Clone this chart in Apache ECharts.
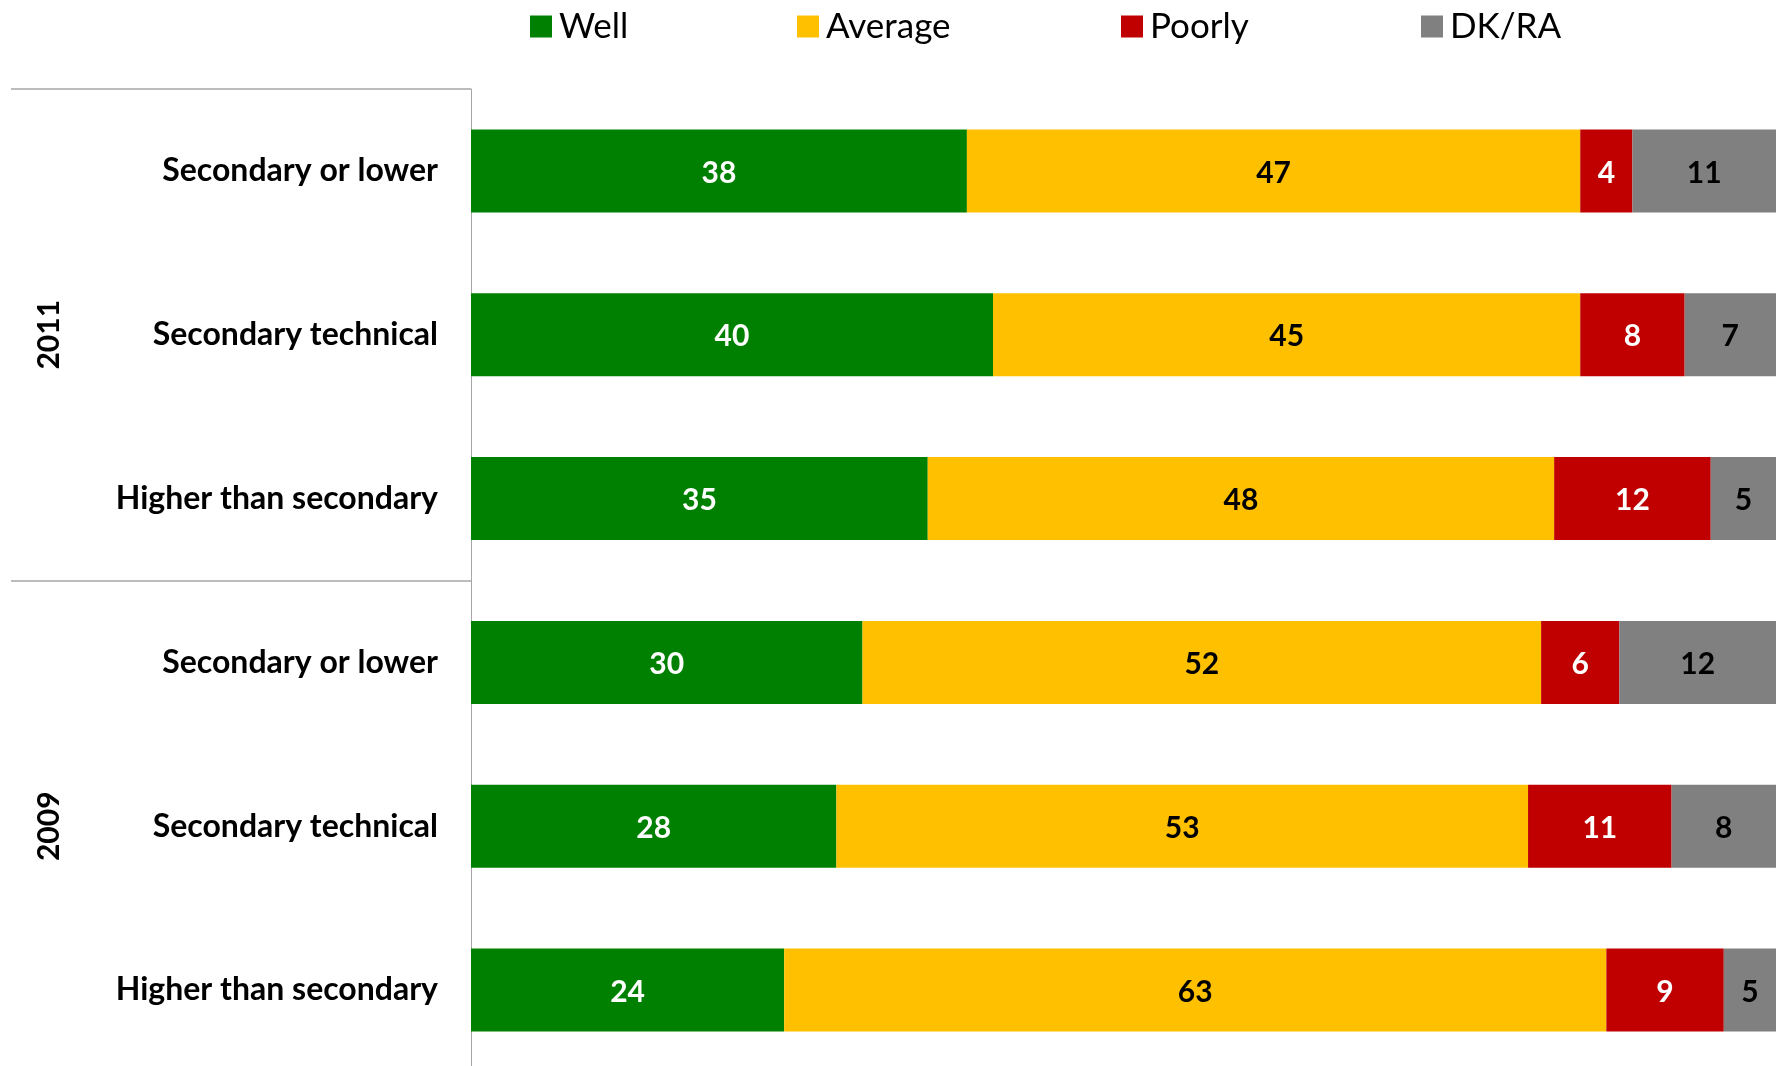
<!DOCTYPE html>
<html>
<head>
<meta charset="utf-8">
<script src="https://cdn.jsdelivr.net/npm/echarts@6/dist/echarts.min.js"></script>
<style>
  html, body { margin: 0; padding: 0; background: #fff; }
  #chart { width: 1776px; height: 1066px; }
</style>
</head>
<body>
<div id="chart"></div>
<script>
  // rows top to bottom
  var categories = ['Secondary or lower', 'Secondary technical', 'Higher than secondary',
                    'Secondary or lower ', 'Secondary technical ', 'Higher than secondary '];
  var years = ['2011', '2009'];
  var well    = [38, 40, 35, 30, 28, 24];
  var average = [47, 45, 48, 52, 53, 63];
  var poorly  = [4, 8, 12, 6, 11, 9];
  var dkra    = [11, 7, 5, 12, 8, 5];

  var names = ['Well', 'Average', 'Poorly', 'DK/RA'];
  var colors = ['#008000', '#FFC000', '#C00000', '#808080'];
  var labelColors = ['#fff', '#000', '#fff', '#000'];
  var values = [well, average, poorly, dkra];
  var legendLeft = [525, 792, 1116, 1416];

  var FONT = 'Lato';

  var chart = echarts.init(document.getElementById('chart'));

  var legends = names.map(function (n, i) {
    return {
      data: [n],
      left: legendLeft[i],
      top: 4,
      icon: 'rect',
      itemWidth: 22,
      itemHeight: 22,
      itemGap: 0,
      selectedMode: false,
      textStyle: { fontFamily: FONT, fontSize: 35, color: '#000', padding: [0, 0, 0, 2] }
    };
  });

  var series = names.map(function (n, i) {
    return {
      name: n,
      type: 'bar',
      stack: 'total',
      barWidth: 83,
      itemStyle: { color: colors[i] },
      label: {
        show: true,
        position: 'inside',
        offset: [0, 2],
        fontFamily: FONT,
        fontWeight: 'bold',
        fontSize: 30,
        color: labelColors[i],
        formatter: '{c}'
      },
      data: values[i]
    };
  });

  chart.setOption({
    animation: false,
    legend: legends,
    grid: { left: 471, right: 0, top: 89, height: 983, containLabel: false, outerBoundsMode: 'none' },
    xAxis: {
      type: 'value',
      min: 0,
      max: 100,
      show: false
    },
    yAxis: [
      {
        type: 'category',
        data: categories,
        inverse: true,
        axisLine: { lineStyle: { color: '#a6a6a6', width: 1 } },
        axisTick: { show: false },
        axisLabel: {
          fontFamily: FONT, fontWeight: 'bold', fontSize: 32, color: '#000', margin: 33,
          formatter: function (v) { return v.trim(); }
        }
      },
      {
        type: 'category',
        data: years,
        inverse: true,
        position: 'left',
        axisLine: { show: false },
        axisTick: { show: true, length: 460, lineStyle: { color: '#a6a6a6', width: 1.5 } },
        axisLabel: {
          rotate: 90, margin: 407,
          fontFamily: FONT, fontWeight: 'bold', fontSize: 30, color: '#000'
        }
      }
    ],
    series: series
  });
</script>
</body>
</html>
